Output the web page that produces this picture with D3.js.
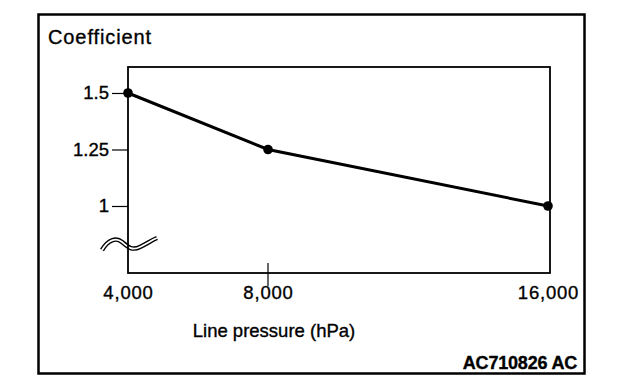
<!DOCTYPE html>
<html>
<head>
<meta charset="utf-8">
<script src="https://cdn.jsdelivr.net/npm/d3@7"></script>
<style>
  body { margin: 0; background: #fff; }
  text { font-family: "Liberation Sans", Arial, sans-serif; fill: #000; stroke: #000; stroke-width: 0.35; }
</style>
</head>
<body>
<svg></svg>
<script>
//chart data
const pressure = [4000, 8000, 16000];
const coefficient = [1.5, 1.25, 1];
const xTickValues = [4000, 8000, 16000];
const xTickLabels = ["4,000", "8,000", "16,000"];
const yTickValues = [1, 1.25, 1.5];
const yTickLabels = ["1", "1.25", "1.5"];

const width = 640;
const height = 388;

const svg = d3.select("svg")
  .attr("width", width)
  .attr("height", height);

//plot box
const plot = {left: 128, top: 67, right: 550, bottom: 273};

//scales
const x = d3.scaleLinear()
  .domain([4000, 16000])
  .range([plot.left, 548]);

const y = d3.scaleLinear()
  .domain([0.7035, 1.615])
  .range([plot.bottom, plot.top]);

//outer frame
svg.append("rect")
  .attr("x", 38.5).attr("y", 14.5)
  .attr("width", 546).attr("height", 359)
  .attr("fill", "none")
  .attr("stroke", "#000")
  .attr("stroke-width", 2.5);

//axis break squiggle
const bx = x(4000), by = 244;
const squiggle = `M${bx-26},${by+6} C${bx-20},${by-4} ${bx-12},${by-7} ${bx-6},${by-2} S${bx+4},${by+7} ${bx+12},${by+3} S${bx+24},${by-4} ${bx+29},${by-6}`;
svg.append("path")
  .attr("d", squiggle)
  .attr("fill", "none")
  .attr("stroke", "#000")
  .attr("stroke-width", 4.5);
svg.append("path")
  .attr("d", squiggle)
  .attr("fill", "none")
  .attr("stroke", "#fff")
  .attr("stroke-width", 1.8);

//plot box
svg.append("rect")
  .attr("x", plot.left).attr("y", plot.top)
  .attr("width", plot.right - plot.left)
  .attr("height", plot.bottom - plot.top)
  .attr("fill", "none")
  .attr("stroke", "#000")
  .attr("stroke-width", 1.8);

//y axis
const yAxis = svg.append("g")
  .attr("transform", `translate(${plot.left},0)`)
  .call(d3.axisLeft(y)
    .tickValues(yTickValues)
    .tickFormat((d, i) => yTickLabels[i])
    .tickSize(16)
    .tickPadding(3));
yAxis.select(".domain").remove();
yAxis.selectAll("line").attr("stroke", "#000").attr("stroke-width", 1.2);
yAxis.selectAll("text")
  .attr("font-size", 18.5)
  .attr("font-family", "Liberation Sans, Arial, sans-serif")
  .attr("fill", "#000");

//x axis
const xAxis = svg.append("g")
  .attr("transform", `translate(0,${plot.bottom})`)
  .call(d3.axisBottom(x)
    .tickValues(xTickValues)
    .tickFormat((d, i) => xTickLabels[i])
    .tickSize(0)
    .tickPadding(13));
xAxis.select(".domain").remove();
xAxis.selectAll("line").remove();
xAxis.selectAll("text")
  .attr("font-size", 18.5)
  .attr("letter-spacing", 0.8)
  .attr("font-family", "Liberation Sans, Arial, sans-serif")
  .attr("fill", "#000");

//interior x ticks cross the axis
svg.selectAll("line.xtick")
  .data(xTickValues.slice(1, -1))
  .enter().append("line")
  .attr("class", "xtick")
  .attr("x1", d => x(d)).attr("x2", d => x(d))
  .attr("y1", plot.bottom - 10).attr("y2", plot.bottom + 13)
  .attr("stroke", "#000")
  .attr("stroke-width", 1.2);

//data line
const points = pressure.map((p, i) => [p, coefficient[i]]);
svg.append("path")
  .datum(points)
  .attr("d", d3.line().x(d => x(d[0])).y(d => y(d[1])))
  .attr("fill", "none")
  .attr("stroke", "#000")
  .attr("stroke-width", 3);

svg.selectAll("circle.pt")
  .data(points)
  .enter().append("circle")
  .attr("class", "pt")
  .attr("cx", d => x(d[0]))
  .attr("cy", d => y(d[1]))
  .attr("r", 4.8)
  .attr("fill", "#000");

//titles
svg.append("text")
  .attr("x", 48).attr("y", 44)
  .attr("font-size", 20)
  .attr("letter-spacing", 0.9)
  .text("Coefficient");

svg.append("text")
  .attr("x", 274).attr("y", 337)
  .attr("text-anchor", "middle")
  .attr("font-size", 18.5)
  .text("Line pressure (hPa)");

svg.append("text")
  .attr("x", 577).attr("y", 369)
  .attr("text-anchor", "end")
  .attr("font-size", 18)
  .attr("font-weight", "bold")
  .attr("letter-spacing", -0.2)
  .text("AC710826 AC");
</script>
</body>
</html>
